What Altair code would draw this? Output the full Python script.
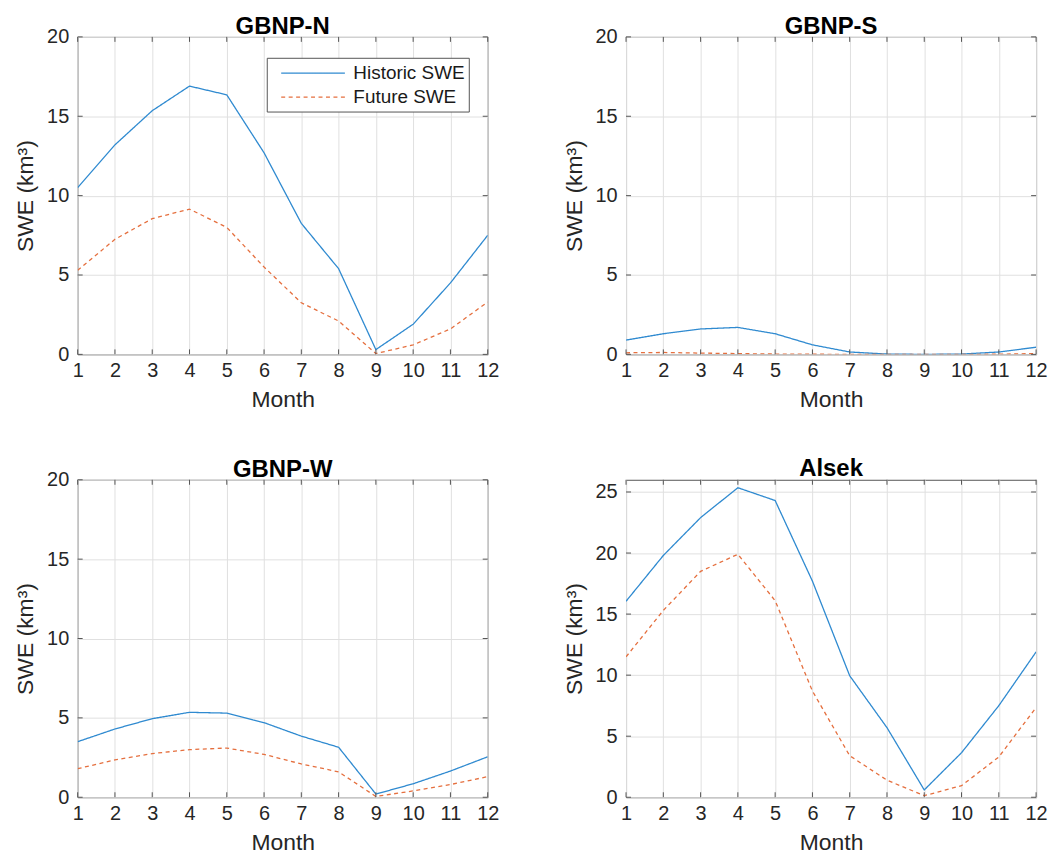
import altair as alt
import pandas as pd

months = list(range(1, 13))
series_names = ["Historic SWE", "Future SWE"]

titles = ["GBNP-N", "GBNP-S", "GBNP-W", "Alsek"]

hist_n = [10.5, 13.2, 15.35, 16.9, 16.35, 12.7, 8.25, 5.4, 0.3, 1.9, 4.5, 7.5]
fut_n = [5.3, 7.25, 8.55, 9.15, 8.0, 5.5, 3.25, 2.1, 0.05, 0.6, 1.6, 3.3]

hist_s = [0.9, 1.3, 1.6, 1.7, 1.3, 0.6, 0.15, 0.02, 0.0, 0.02, 0.15, 0.45]
fut_s = [0.1, 0.12, 0.08, 0.05, 0.02, 0.01, 0.0, 0.0, 0.0, 0.0, 0.01, 0.05]

hist_w = [3.5, 4.3, 4.95, 5.35, 5.3, 4.7, 3.85, 3.15, 0.2, 0.85, 1.65, 2.55]
fut_w = [1.8, 2.35, 2.75, 3.0, 3.1, 2.7, 2.1, 1.6, 0.05, 0.4, 0.8, 1.3]

hist_a = [16.05, 19.8, 22.9, 25.35, 24.3, 17.7, 9.95, 5.7, 0.6, 3.65, 7.5, 11.9]
fut_a = [11.5, 15.3, 18.5, 19.9, 16.1, 8.7, 3.4, 1.4, 0.13, 0.95, 3.3, 7.35]

y_ticks_20 = [0, 5, 10, 15, 20]
y_ticks_25 = [0, 5, 10, 15, 20, 25]

W, H = 412, 319
FONT = "Liberation Sans"
BLUE = "#2f8ad0"
ORANGE = "#e56f3e"
FRAME = "#555555"
TICK = 5


def panel(name, hist, fut, ymax, yticks, show_legend, title_offset):
    df = pd.DataFrame({
        "Month": months * 2,
        "SWE": hist + fut,
        "Series": [series_names[0]] * 12 + [series_names[1]] * 12,
    })
    xaxis = alt.Axis(values=months, title="Month", format="d", labelFlush=False)
    yaxis = alt.Axis(values=yticks, title="SWE (km³)", format="d")
    xs = alt.Scale(domain=[1, 12], nice=False, zero=False)
    ys = alt.Scale(domain=[0, ymax], nice=False)

    if show_legend:
        leg = alt.Legend(
            title=None, orient="none", legendX=190, legendY=21,
            strokeColor=FRAME, fillColor="white", padding=4,
            labelFont=FONT, labelFontSize=19, labelColor="#1a1a1a",
            symbolType="M-3,0H3", symbolSize=455, symbolStrokeWidth=1.3,
            symbolOffset=31, labelOffset=29, rowPadding=2, labelLimit=0,
        )
    else:
        leg = None

    lines = alt.Chart(df).mark_line(strokeWidth=1.3, clip=True).encode(
        x=alt.X("Month:Q", scale=xs, axis=xaxis),
        y=alt.Y("SWE:Q", scale=ys, axis=yaxis),
        color=alt.Color("Series:N", sort=series_names,
                        scale=alt.Scale(domain=series_names, range=[BLUE, ORANGE]),
                        legend=leg),
        strokeDash=alt.StrokeDash("Series:N", sort=series_names,
                                  scale=alt.Scale(domain=series_names, range=[[1, 0], [4, 3.5]]),
                                  legend=leg),
    )

    xt = pd.DataFrame({"Month": months})
    yt = pd.DataFrame({"SWE": yticks})
    xenc = alt.X("Month:Q", scale=xs, axis=xaxis)
    yenc = alt.Y("SWE:Q", scale=ys, axis=yaxis)
    tb = alt.Chart(xt).mark_rule(color=FRAME, strokeWidth=1).encode(
        x=xenc, y=alt.value(H), y2=alt.value(H - TICK))
    tt = alt.Chart(xt).mark_rule(color=FRAME, strokeWidth=1).encode(
        x=xenc, y=alt.value(0), y2=alt.value(TICK))
    tl = alt.Chart(yt).mark_rule(color=FRAME, strokeWidth=1).encode(
        y=yenc, x=alt.value(0), x2=alt.value(TICK))
    tr = alt.Chart(yt).mark_rule(color=FRAME, strokeWidth=1).encode(
        y=yenc, x=alt.value(W), x2=alt.value(W - TICK))

    return alt.layer(lines, tb, tt, tl, tr).properties(
        width=W, height=H,
        title=alt.Title(name, offset=title_offset),
    )


p1 = panel(titles[0], hist_n, fut_n, 20, y_ticks_20, True, -12)
p2 = panel(titles[1], hist_s, fut_s, 20, y_ticks_20, False, -12)
p3 = panel(titles[2], hist_w, fut_w, 20, y_ticks_20, False, -12)
p4 = panel(titles[3], hist_a, fut_a, 26, y_ticks_25, False, -2)

chart = alt.concat(p1, p2, p3, p4, columns=2, spacing={"row": 45, "column": 63}).resolve_scale(
    color="independent", strokeDash="independent"
).configure_view(
    stroke=FRAME, strokeWidth=1
).configure_axis(
    grid=True, gridColor="#e0e0e0", gridWidth=1,
    domain=False, ticks=False,
    labelFont=FONT, labelFontSize=20, labelColor="#262626",
    titleFont=FONT, titleFontSize=23, titleFontWeight="normal", titleColor="#262626",
).configure_axisX(
    labelPadding=6, titlePadding=8,
).configure_axisY(
    labelPadding=9, titlePadding=9,
).configure_title(
    font=FONT, fontSize=24, fontWeight="bold", color="#000000",
).properties(background="white", padding={"left": 6, "top": 4, "right": 5, "bottom": 0})

chart.save("out.html", embed_options={"renderer": "svg", "actions": False})
